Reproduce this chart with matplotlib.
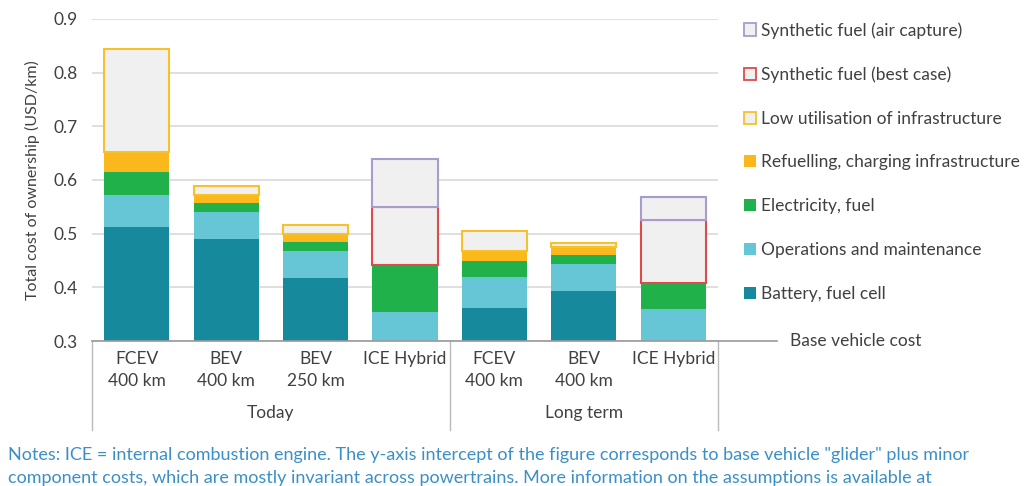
import numpy as np
import matplotlib.pyplot as plt
from matplotlib.patches import Patch
import matplotlib.transforms as mtransforms

plt.rcParams['font.family'] = ['Lato', 'DejaVu Sans']

# ---------------------------------------------------
# Data (USD/km, segment heights above base 0.3)
# ---------------------------------------------------
labels = ["FCEV\n400 km", "BEV\n400 km", "BEV\n250 km", "ICE Hybrid",
          "FCEV\n400 km", "BEV\n400 km", "ICE Hybrid"]
groups = ["Today", "Long term"]
group_sizes = [4, 3]
base = 0.3

battery = [0.212, 0.190, 0.118, 0.0, 0.061, 0.094, 0.0]
om = [0.060, 0.050, 0.049, 0.054, 0.059, 0.049, 0.060]
electricity = [0.043, 0.018, 0.018, 0.087, 0.030, 0.018, 0.049]
refuelling = [0.038, 0.014, 0.014, 0.0, 0.017, 0.014, 0.0]
low_util = [0.191, 0.017, 0.017, 0.0, 0.038, 0.008, 0.0]
synth_best = [0.0, 0.0, 0.0, 0.108, 0.0, 0.0, 0.116]
synth_air = [0.0, 0.0, 0.0, 0.090, 0.0, 0.0, 0.044]

c_batt = "#168a9c"
c_om = "#67c6d6"
c_elec = "#21b14b"
c_refuel = "#fbb81c"
c_low = "#f6c22a"
c_red = "#e04a4a"
c_purple = "#a99ccc"
c_fill = "#f0f0f0"
c_text = "#404040"
fs = 12.5

fig = plt.figure(figsize=(10.3, 4.86), dpi=100)
ax = fig.add_axes([92 / 1030, 1 - 341 / 486, 626 / 1030, 322 / 486])

x = np.arange(len(labels))
w = 0.73
bottom = np.full(len(labels), base)

solid = [(battery, c_batt), (om, c_om), (electricity, c_elec), (refuelling, c_refuel)]
for vals, col in solid:
    vals = np.array(vals)
    ax.bar(x, vals, w, bottom=bottom, color=col, edgecolor="none", zorder=3)
    bottom = bottom + vals

outlined = [(low_util, c_low), (synth_best, c_red), (synth_air, c_purple)]
for vals, col in outlined:
    vals = np.array(vals)
    m = vals > 0
    ax.bar(x[m], vals[m], w, bottom=bottom[m], facecolor=c_fill,
           edgecolor=col, linewidth=1.5, zorder=3)
    bottom = bottom + vals

ax.set_xlim(-0.5, len(labels) - 0.5)
ax.set_ylim(0.3, 0.9)
ax.set_yticks(np.arange(0.3, 0.91, 0.1))
ax.set_yticklabels([f"{v:.1f}" for v in np.arange(0.3, 0.91, 0.1)], fontsize=fs, color=c_text)
ax.yaxis.grid(True, color="#d9d9d9", linewidth=1.2, zorder=0)
ax.set_axisbelow(True)
for s in ["left", "right", "top", "bottom"]:
    ax.spines[s].set_visible(False)
ax.tick_params(axis="both", length=0, pad=10)
ax.tick_params(axis="x", pad=7)
ax.set_xticks(x)
ax.set_xticklabels(labels, fontsize=fs, color=c_text, linespacing=1.5, va="top")
ax.set_ylabel("Total cost of ownership (USD/km)", fontsize=11.5, color=c_text, labelpad=10)

# base line extending to the "Base vehicle cost" label
ax.axhline(base, xmin=0, xmax=1.094, color="#999999", linewidth=1.2, clip_on=False, zorder=4)
ax.text(1.115, 0.0, "Base vehicle cost", transform=ax.transAxes, fontsize=fs,
        color=c_text, va="center", ha="left")

# group separators and labels
trans = mtransforms.blended_transform_factory(ax.transData, ax.transAxes)
edges = np.concatenate([[0], np.cumsum(group_sizes)]) - 0.5
for e in edges:
    ax.plot([e, e], [0, -0.276], transform=trans, color="#bbbbbb", linewidth=1, clip_on=False)
for g, lo, hi in zip(groups, edges[:-1], edges[1:]):
    ax.text((lo + hi) / 2, -0.225, g, transform=trans, fontsize=fs,
            color=c_text, ha="center", va="center")

# legend
handles = [
    Patch(facecolor=c_fill, edgecolor=c_purple, linewidth=1.3, label="Synthetic fuel (air capture)"),
    Patch(facecolor=c_fill, edgecolor=c_red, linewidth=1.3, label="Synthetic fuel (best case)"),
    Patch(facecolor=c_fill, edgecolor=c_low, linewidth=1.3, label="Low utilisation of infrastructure"),
    Patch(facecolor=c_refuel, label="Refuelling, charging infrastructure"),
    Patch(facecolor=c_elec, label="Electricity, fuel"),
    Patch(facecolor=c_om, label="Operations and maintenance"),
    Patch(facecolor=c_batt, label="Battery, fuel cell"),
]
leg = fig.legend(handles=handles, loc="upper left", bbox_to_anchor=(744 / 1030, 1 - 22 / 486),
                 frameon=False, fontsize=fs, handlelength=0.7, handleheight=0.7,
                 handletextpad=0.3, labelspacing=1.6, borderaxespad=0, borderpad=0)
for t in leg.get_texts():
    t.set_color(c_text)

# notes
note_col = "#3b8fc8"
fig.text(8 / 1030, 1 - 455 / 486,
         'Notes: ICE = internal combustion engine. The y-axis intercept of the figure corresponds to base vehicle "glider" plus minor',
         fontsize=13, color=note_col, va="center", ha="left")
fig.text(8 / 1030, 1 - 478 / 486,
         "component costs, which are mostly invariant across powertrains. More information on the assumptions is available at",
         fontsize=13, color=note_col, va="center", ha="left")

fig.savefig("out.png", dpi=100, facecolor="white")
